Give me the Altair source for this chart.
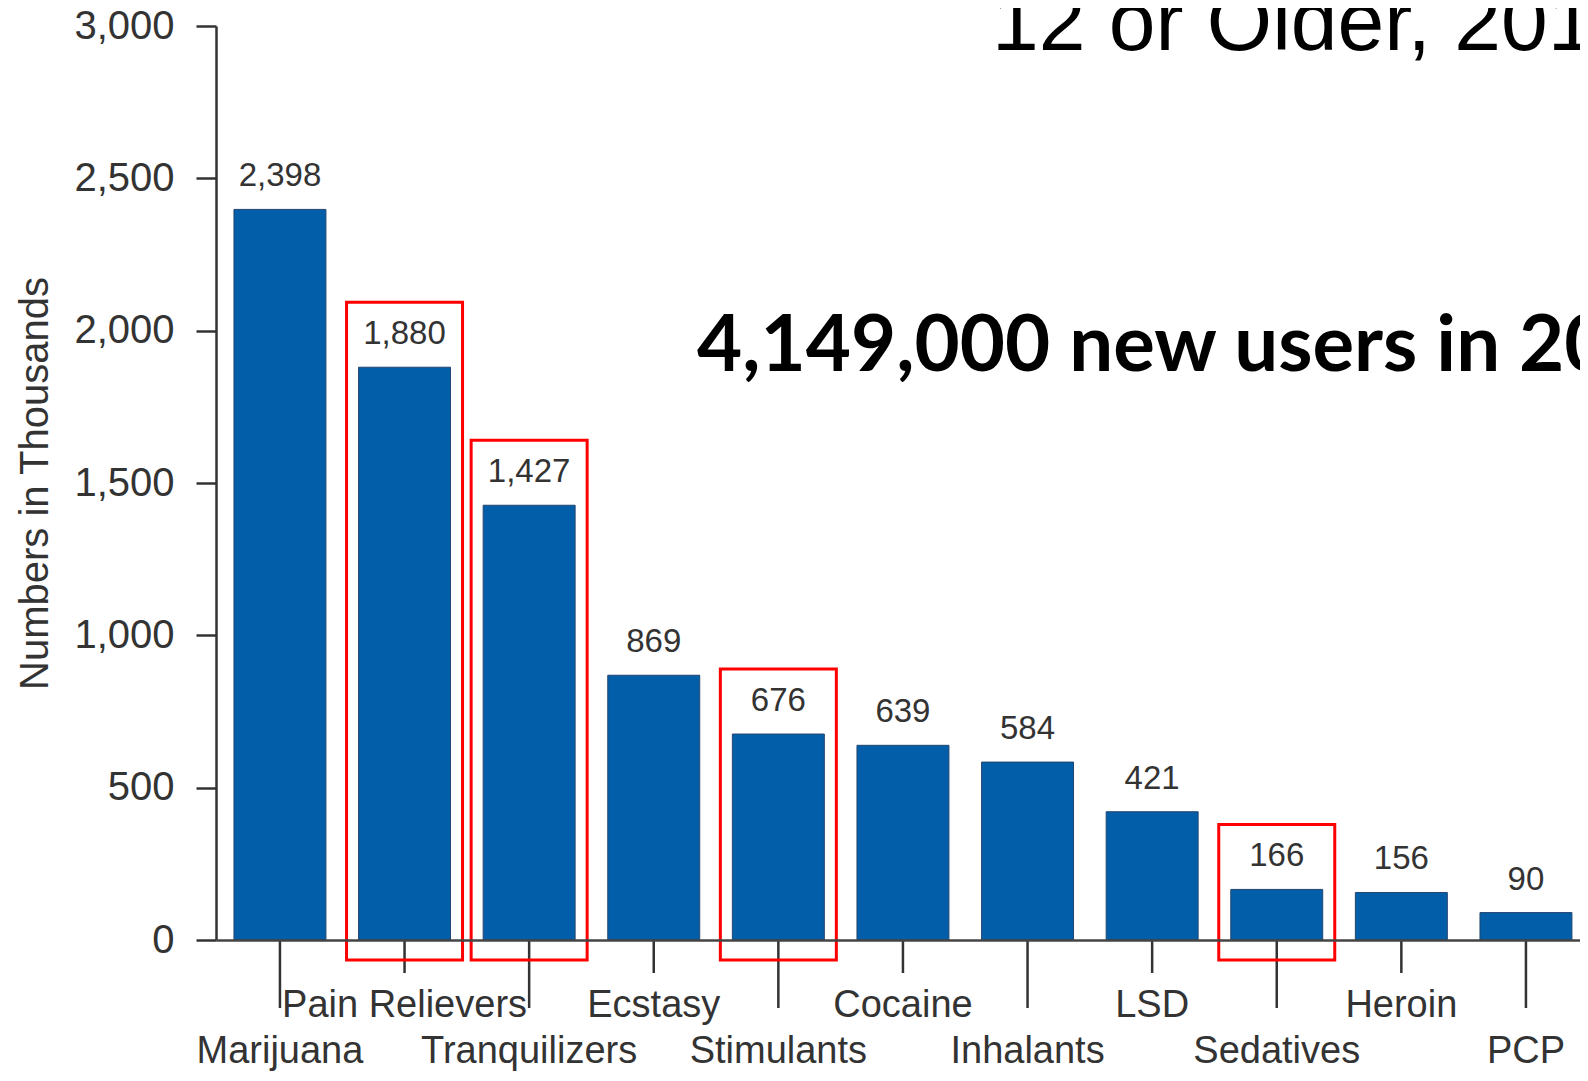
import altair as alt
import pandas as pd

# ---- data ----
drugs = ["Marijuana", "Pain Relievers", "Tranquilizers", "Ecstasy", "Stimulants",
         "Cocaine", "Inhalants", "LSD", "Sedatives", "Heroin", "PCP"]
initiates = [2398, 1880, 1427, 869, 676, 639, 584, 421, 166, 156, 90]
boxed = ["Pain Relievers", "Tranquilizers", "Stimulants", "Sedatives"]
y_ticks = [0, 500, 1000, 1500, 2000, 2500, 3000]
y_title = "Numbers in Thousands"
title_text = "12 or Older, 2010"
note_text = "4,149,000 new users in 2010"

df = pd.DataFrame({"drug": drugs, "value": initiates})
df["row"] = [i % 2 for i in range(len(drugs))]
df["boxed"] = df["drug"].isin(boxed)

W, H = 1364, 914
FONT = "Liberation Sans"
INK = "#333333"

x_main = alt.X(
    "drug:N", sort=drugs,
    scale=alt.Scale(paddingInner=0.262, paddingOuter=0.1045, align=0.69),
    axis=alt.Axis(labels=False, ticks=False, title=None, grid=False,
                  domainColor="#444444", domainWidth=2.5, zindex=1),
)
x_enc = alt.X("drug:N", sort=drugs)
y_main = alt.Y(
    "value:Q",
    scale=alt.Scale(domain=[0, 3000], nice=False),
    axis=alt.Axis(values=y_ticks, format=",.0f", grid=False,
                  tickSize=20, tickWidth=2.5, tickColor=INK,
                  domainColor=INK, domainWidth=2.5,
                  labelFont=FONT, labelFontSize=40, labelColor=INK, labelPadding=22,
                  title=y_title, titleFont=FONT, titleFontSize=40,
                  titleFontWeight="normal", titleColor=INK,
                  titleAngle=270, titleX=-169, titleY=457,
                  titleAlign="center", titleBaseline="alphabetic"),
)

base = alt.Chart(df)

bars = base.mark_bar(fill="#035ea9", stroke="#23466f", strokeWidth=1).encode(
    x=x_main, y=y_main
)

value_labels = base.mark_text(
    dy=-23, baseline="alphabetic", fontSize=33, font=FONT, color=INK
).encode(x=x_enc, y="value:Q", text=alt.Text("value:Q", format=","))

ticks_long = base.transform_filter("datum.row == 0").mark_rule(
    color=INK, strokeWidth=2.5
).encode(x=x_enc, y=alt.value(H), y2=alt.value(H + 68))

ticks_short = base.transform_filter("datum.row == 1").mark_rule(
    color=INK, strokeWidth=2.5
).encode(x=x_enc, y=alt.value(H), y2=alt.value(H + 33))

labels_upper = base.transform_filter("datum.row == 1").mark_text(
    baseline="alphabetic", fontSize=38, font=FONT, color=INK
).encode(x=x_enc, y=alt.value(H + 77), text="drug:N")

labels_lower = base.transform_filter("datum.row == 0").mark_text(
    baseline="alphabetic", fontSize=38, font=FONT, color=INK
).encode(x=x_enc, y=alt.value(H + 123), text="drug:N")

boxes = base.transform_filter("datum.boxed").mark_bar(
    fill="transparent", stroke="#ff0000", strokeWidth=3,
    width=116, yOffset=-65, y2Offset=20
).encode(x=x_enc, y="value:Q", y2=alt.datum(0))

title_mark = alt.Chart(pd.DataFrame({"t": [title_text]})).mark_text(
    align="left", baseline="alphabetic", fontSize=84, font=FONT, color="#000000"
).encode(x=alt.value(776), y=alt.value(24), text="t:N")

note_mark = alt.Chart(pd.DataFrame({"t": [note_text]})).mark_text(
    align="left", baseline="alphabetic", fontSize=78, font="Lato",
    fontWeight="bold", color="#000000"
).encode(x=alt.value(481), y=alt.value(345), text="t:N")

chart = alt.layer(
    bars, ticks_long, ticks_short, labels_upper, labels_lower,
    value_labels, boxes, title_mark, note_mark
).properties(
    width=W, height=H,
    padding={"left": 208, "top": 18, "right": 0, "bottom": 132},
    autosize=alt.AutoSizeParams(type="none"),
    background="#ffffff",
).configure_view(strokeWidth=0)

chart.save("out.html", embed_options={"renderer": "svg", "actions": False})
